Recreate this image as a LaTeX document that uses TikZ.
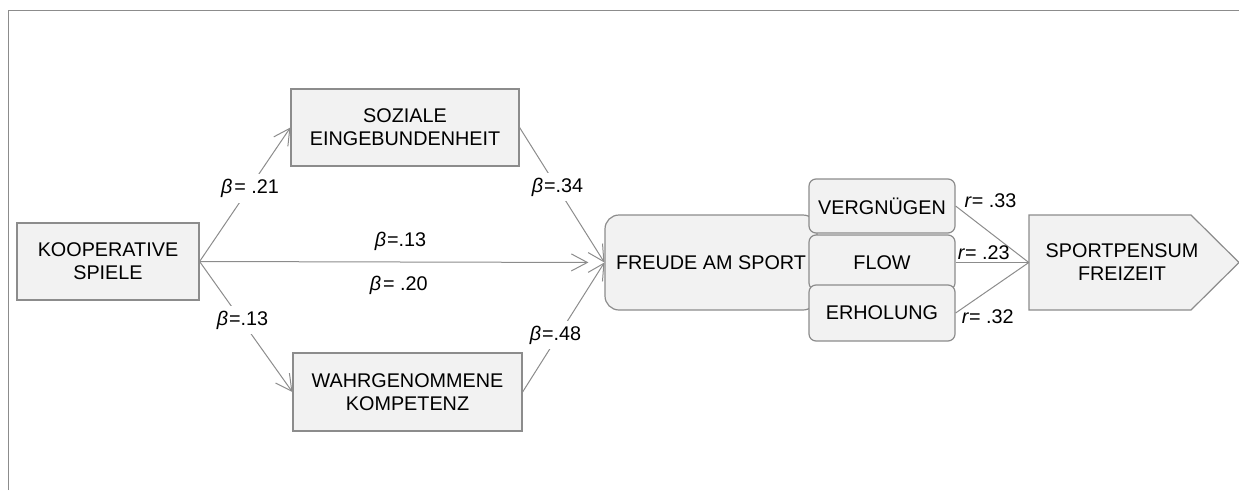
\documentclass[tikz,border=0pt]{standalone}
\usepackage{fontspec}
\setmainfont{Liberation Sans}
\usetikzlibrary{arrows.meta}
\definecolor{lc}{RGB}{140,140,140}
\definecolor{bf}{RGB}{242,242,242}
\newcommand\fsz{\fontsize{19.8}{23}\selectfont}
\newcommand\bet{\textit{β}}
\begin{document}
\begin{tikzpicture}[x=1pt,y=-1pt,
  box/.style={draw=lc, fill=bf, line width=1.2pt, align=center, inner sep=0pt, font=\fsz},
  rbox/.style={box, rounded corners=14pt},
  sbox/.style={box, rounded corners=7pt},
  conn/.style={draw=lc, line width=1pt},
  arr/.style={conn, -{Straight Barb[length=16pt,width=17pt]}},
  lab/.style={font=\fsz, inner sep=0pt},
  blab/.style={lab, fill=white, inner sep=5pt}
]
\useasboundingbox (0,0) rectangle (1239,490);
% frame
\draw[lc, line width=1.5pt] (8.5,490) -- (8.5,10.5) -- (1239,10.5);

% nodes
\node[box, minimum width=182pt, minimum height=77pt] (koop) at (108,261.5) {KOOPERATIVE\\SPIELE};
\node[box, minimum width=228pt, minimum height=77pt] (soz) at (405,127.5) {SOZIALE\\EINGEBUNDENHEIT};
\node[box, minimum width=229pt, minimum height=78pt] (wahr) at (407.5,392) {WAHRGENOMMENE\\KOMPETENZ};
\node[rbox, minimum width=212pt, minimum height=95pt] (freude) at (711,262.5) {FREUDE AM SPORT};
\node[sbox, minimum width=146pt, minimum height=54pt] (verg) at (882,206) {VERGNÜGEN};
\node[sbox, minimum width=146pt, minimum height=55pt] (flow) at (882,262.5) {FLOW};
\node[sbox, minimum width=146pt, minimum height=56pt] (erh) at (882,313) {ERHOLUNG};

% Sportpensum pentagon
\draw[draw=lc, fill=bf, line width=1.2pt] (1029,215) -- (1191,215) -- (1239,262.5) -- (1191,310) -- (1029,310) -- cycle;
\node[lab, align=center, minimum width=186pt, minimum height=95pt] (sp) at (1122,262.5) {SPORTPENSUM\\FREIZEIT};

% connectors
\draw[arr] (koop.east) -- (soz.west);
\draw[arr] (koop.east) -- (wahr.west);
\draw[arr, shorten >=16pt] (koop.east) -- (freude.west);
\draw[arr] (soz.east) -- (freude.west);
\draw[arr] (wahr.east) -- (freude.west);
\draw[conn] (verg.east) -- (sp.west);
\draw[conn] (flow.east) -- (sp.west);
\draw[conn] (erh.east) -- (sp.west);

% labels
\node[blab] (l1) at (250,188.5) {\bet\kern2pt= .21};
\node[blab] (l2) at (242.5,320) {\bet\kern1pt=.13};
\node[lab] (l3) at (400.5,241) {\bet\kern1pt=.13};
\node[lab] (l4) at (398.7,285) {\bet\kern2pt= .20};
\node[blab] (l5) at (557.5,187) {\bet\kern1pt=.34};
\node[blab] (l6) at (555.5,335) {\bet\kern1pt=.48};
\node[lab] (l7) at (990.5,201) {\textit{r}= .33};
\node[lab] (l8) at (983.8,252.5) {\textit{r}= .23};
\node[lab] (l9) at (987.8,317) {\textit{r}= .32};
\end{tikzpicture}
\end{document}
